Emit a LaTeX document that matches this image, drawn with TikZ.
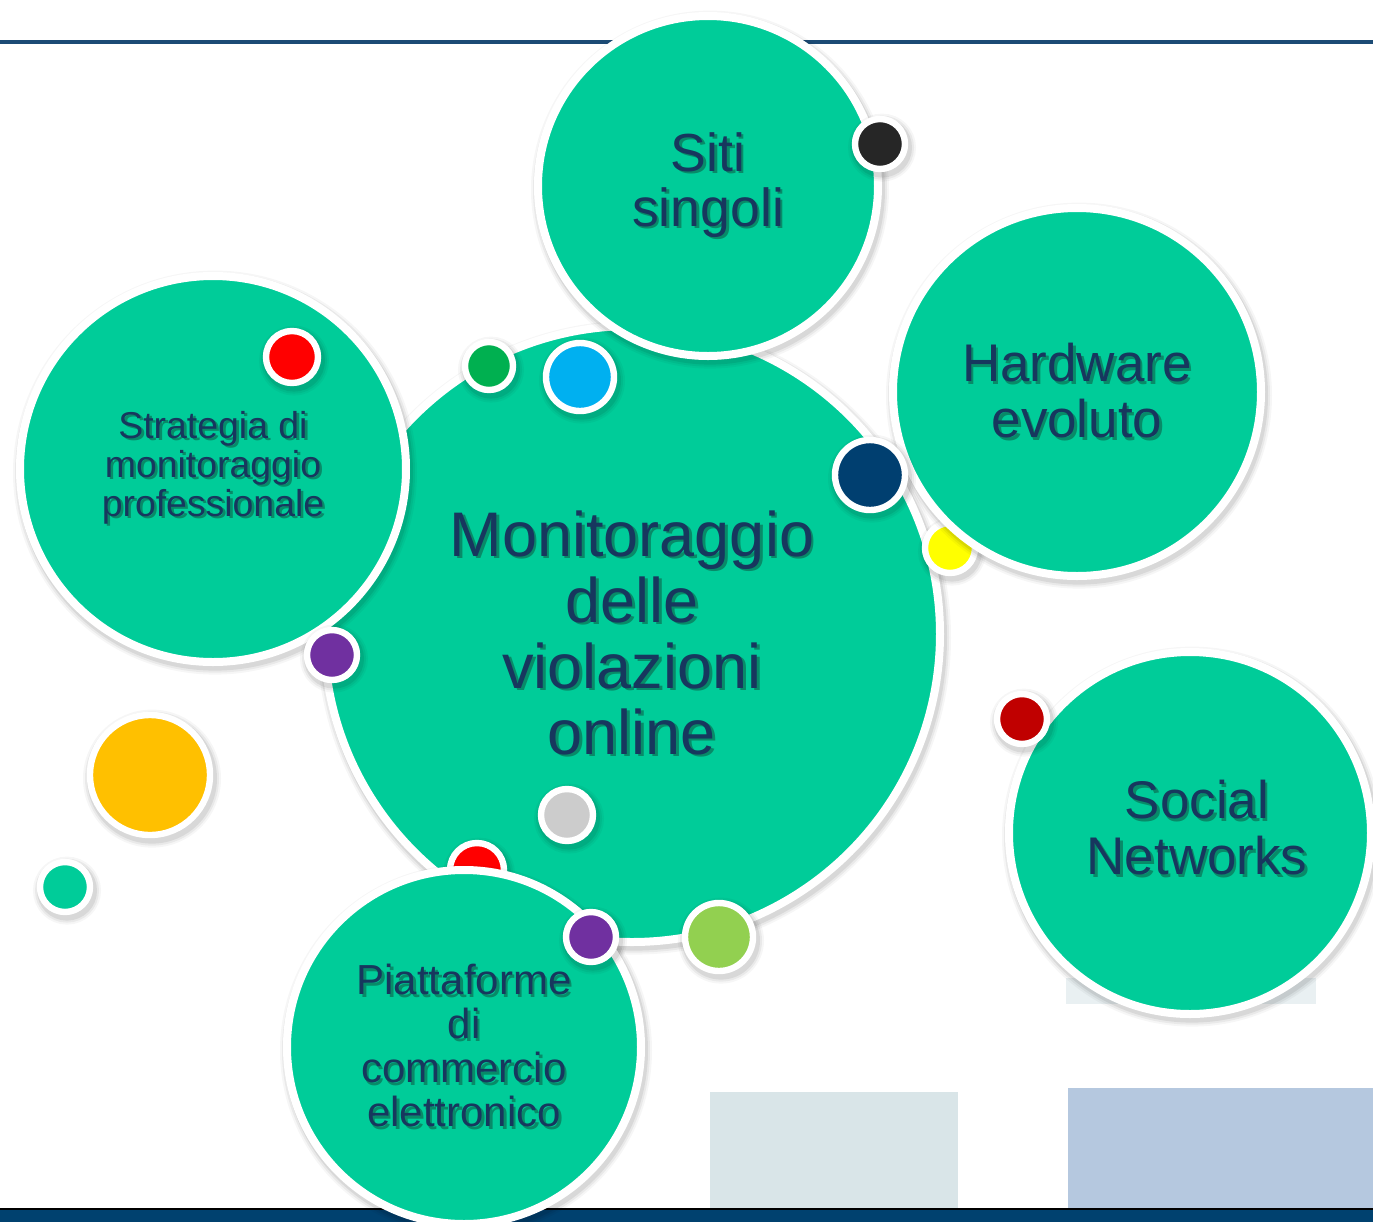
\documentclass[tikz,border=0pt]{standalone}
\usepackage{fontspec}
\setmainfont{Liberation Sans}
\begin{document}
% palette
\definecolor{bubgreen}{HTML}{00CC99}
\definecolor{txtnavy}{HTML}{17375E}
\definecolor{txtshadow}{HTML}{088A68}
\definecolor{rulenavy}{HTML}{1C4B75}
\definecolor{barnavy}{HTML}{00416F}
\definecolor{dotblack}{HTML}{262626}
\definecolor{dotred}{HTML}{FF0000}
\definecolor{dotgreen}{HTML}{00B050}
\definecolor{dotcyan}{HTML}{00B0F0}
\definecolor{dotnavy}{HTML}{003F70}
\definecolor{dotyellow}{HTML}{FFFF00}
\definecolor{dotpurple}{HTML}{7030A0}
\definecolor{dotdarkred}{HTML}{C00000}
\definecolor{dotorange}{HTML}{FFC000}
\definecolor{dotgrey}{HTML}{CCCCCC}
\definecolor{dotlime}{HTML}{92D050}
\definecolor{panelA}{HTML}{D9E5E8}
\definecolor{panelB}{HTML}{B5C8DF}
\definecolor{panelC}{HTML}{E9F0F2}
% text with a small dark offset copy behind it
\newcommand\shd[1]{\rlap{\hspace*{1.3pt}\raisebox{-1.3pt}{\color{txtshadow}#1}}#1}
\tikzset{
  softshadow/.style={
    preaction={draw=black, draw opacity=0.035, line width=9pt,
      transform canvas={shift={(1pt,-1.8pt)}}},
    preaction={draw=black, draw opacity=0.05, line width=7pt,
      transform canvas={shift={(1pt,-1.8pt)}}},
    preaction={draw=black, draw opacity=0.07, line width=5pt,
      transform canvas={shift={(1pt,-1.8pt)}}}},
  bub/.style={circle, draw=white, line width=4pt, fill=bubgreen,
    inner sep=0pt, align=center, text=txtnavy, softshadow,
    minimum size=#1},
  dotc/.style={circle, draw=white, line width=3.2pt, inner sep=0pt,
    softshadow, minimum size=#1},
}
\begin{tikzpicture}[x=0.5pt, y=-0.5pt]
\useasboundingbox (0,0) rectangle (1373,1222);
\fill[white] (0,0) rectangle (1373,1222);

% faded panels of the slide background
\fill[panelC] (1066,978) rectangle (1316,1004);
\fill[panelA] (710,1092) rectangle (958,1210);
\fill[panelB] (1068,1088) rectangle (1373,1210);

% header rule
\draw[rulenavy, line width=1.8pt] (0,42) -- (1373,42);

% footer bar
\fill[barnavy] (0,1209) rectangle (1373,1222);
\draw[black, line width=0.8pt] (0,1209) -- (1373,1209);

% central bubble
\node[bub=308pt, font=\fontsize{31.5}{33}\selectfont] (core) at (632,634)
  {\shd{Monitoraggio}\\\shd{delle}\\\shd{violazioni}\\\shd{online}};

% dots lying on the central bubble, below the satellites
\node[dotc=25pt, fill=dotyellow] (dyellow) at (950,548) {};
\node[dotc=27pt, fill=dotred] (dred2) at (477,870) {};

% satellite bubbles
\node[bub=170pt, font=\fontsize{26.8}{27.5}\selectfont] (siti) at (708,186)
  {\shd{Siti}\\\shd{singoli}};
\node[bub=184pt, font=\fontsize{26.5}{28}\selectfont] (hw) at (1077,392)
  {\shd{Hardware}\\\shd{evoluto}};
\node[bub=193pt, font=\fontsize{18.7}{19.5}\selectfont] (strat) at (213,469)
  {\shd{Strategia di}\\\shd{monitoraggio}\\\shd{professionale}};
\node[bub=181pt] (social) at (1190,833) {};
\node[font=\fontsize{26.5}{28}\selectfont, text=txtnavy, align=center] (socialtxt)
  at (1197,829) {\shd{Social}\\\shd{Networks}};
\node[bub=177pt, font=\fontsize{21}{22}\selectfont] (piatt) at (464,1047)
  {\shd{Piattaforme}\\\shd{di}\\\shd{commercio}\\\shd{elettronico}};

% dots on top
\node[dotc=25pt, fill=dotblack] (dblack) at (880,144) {};
\node[dotc=26pt, fill=dotred] (dred1) at (292,357) {};
\node[dotc=24pt, fill=dotgreen] (dgreen) at (489,366) {};
\node[dotc=34pt, fill=dotcyan] (dcyan) at (580,377) {};
\node[dotc=35pt, fill=dotnavy] (dnavy) at (870,475) {};
\node[dotc=25pt, fill=dotpurple] (dpurple1) at (332,655) {};
\node[dotc=25pt, fill=dotdarkred] (ddarkred) at (1022,719) {};
\node[dotc=60pt, fill=dotorange] (dorange) at (150,775) {};
\node[dotc=25pt, fill=bubgreen] (dteal) at (65,887) {};
\node[dotc=26pt, fill=dotgrey] (dgrey) at (567,815) {};
\node[dotc=25pt, fill=dotpurple] (dpurple2) at (591,937) {};
\node[dotc=34pt, fill=dotlime] (dlime) at (719,937) {};
\end{tikzpicture}
\end{document}
